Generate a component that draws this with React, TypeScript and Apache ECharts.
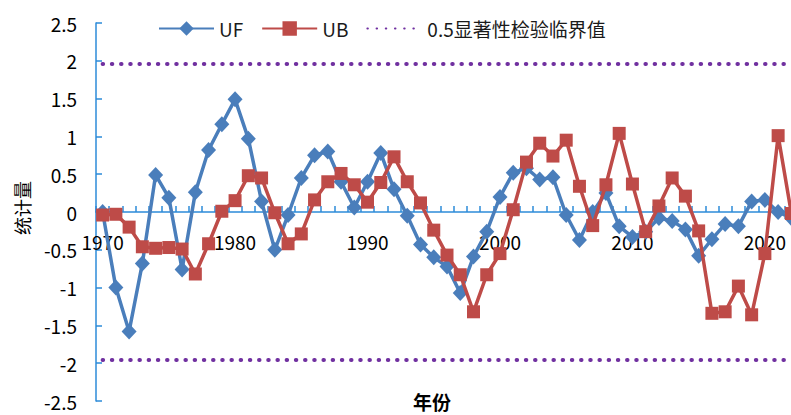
import React, { useEffect, useRef } from 'react';
import * as echarts from 'echarts';

const years = [
  '1970', '1971', '1972', '1973', '1974', '1975', '1976', '1977', '1978', '1979',
  '1980', '1981', '1982', '1983', '1984', '1985', '1986', '1987', '1988', '1989',
  '1990', '1991', '1992', '1993', '1994', '1995', '1996', '1997', '1998', '1999',
  '2000', '2001', '2002', '2003', '2004', '2005', '2006', '2007', '2008', '2009',
  '2010', '2011', '2012', '2013', '2014', '2015', '2016', '2017', '2018', '2019',
  '2020', '2021', '2022',
];

const ufValues = [
  0.0, -1.0, -1.58, -0.68, 0.49, 0.19, -0.76, 0.26, 0.82, 1.16,
  1.49, 0.97, 0.14, -0.5, -0.04, 0.45, 0.75, 0.8, 0.4, 0.06,
  0.4, 0.78, 0.3, -0.05, -0.43, -0.6, -0.72, -1.07, -0.59, -0.26,
  0.2, 0.52, 0.58, 0.43, 0.46, -0.04, -0.37, 0.0, 0.25, -0.19,
  -0.33, -0.26, -0.08, -0.12, -0.23, -0.58, -0.36, -0.16, -0.19, 0.14,
  0.16, 0.0, -0.08,
];

const ubValues = [
  -0.04, -0.03, -0.2, -0.46, -0.48, -0.47, -0.49, -0.82, -0.42, 0.01,
  0.15, 0.48, 0.45, -0.01, -0.42, -0.29, 0.16, 0.4, 0.51, 0.36,
  0.13, 0.39, 0.73, 0.4, 0.12, -0.24, -0.57, -0.83, -1.32, -0.83,
  -0.55, 0.03, 0.66, 0.91, 0.74, 0.95, 0.34, -0.18, 0.36, 1.04,
  0.37, -0.26, 0.08, 0.45, 0.21, -0.25, -1.34, -1.32, -0.98, -1.36,
  -0.55, 1.01, -0.02,
];

const criticalValue = 1.96;
const yTicks = { min: -2.5, max: 2.5, interval: 0.5 };

const seriesNames = ['UF', 'UB', '0.5显著性检验临界值'];
const axisNames = { x: '年份', y: '统计量' };

const FONT = '"Noto Sans CJK SC", "Noto Sans", sans-serif';
const AXIS_COLOR = '#2C8BD9';
const UF_COLOR = '#4A7EBB';
const UB_COLOR = '#BE4B48';
const CRIT_COLOR = '#7030A0';

export default function App() {
  const ref = useRef<HTMLDivElement>(null);

  useEffect(() => {
    if (!ref.current) return;
    const chart = echarts.init(ref.current, undefined, { renderer: 'svg' });
    const first = years[0];
    const last = years[years.length - 1];
    const dotted = { color: CRIT_COLOR, width: 4, type: [0.5, 8.7], cap: 'round' };
    chart.setOption({
      animation: false,
      backgroundColor: '#ffffff',
      textStyle: { fontFamily: FONT },
      grid: {
        left: 96,
        right: -7,
        top: 23,
        bottom: 14,
        containLabel: false,
        outerBoundsMode: 'none',
      },
      legend: {
        left: 153,
        top: 14,
        itemWidth: 55,
        itemHeight: 18,
        itemGap: 18,
        data: [
          { name: seriesNames[0] },
          { name: seriesNames[1] },
          { name: seriesNames[2], itemStyle: { color: 'rgba(0,0,0,0)', opacity: 0, borderWidth: 0 } },
        ],
        textStyle: { fontFamily: FONT, fontSize: 19, color: '#1a1a1a' },
      },
      xAxis: {
        type: 'category',
        data: years,
        boundaryGap: true,
        offset: -189,
        axisLine: { onZero: false, lineStyle: { color: AXIS_COLOR, width: 1.5 } },
        axisTick: { show: true, inside: true, length: 6, interval: 0, lineStyle: { color: AXIS_COLOR, width: 1.5 } },
        axisLabel: { interval: 9, margin: 20, fontFamily: FONT, fontSize: 19, color: '#000' },
        splitLine: { show: false },
      },
      yAxis: {
        type: 'value',
        min: yTicks.min,
        max: yTicks.max,
        interval: yTicks.interval,
        axisLine: { show: true, lineStyle: { color: AXIS_COLOR, width: 1.5 } },
        axisTick: { show: true, inside: true, length: 6, lineStyle: { color: AXIS_COLOR, width: 1.5 } },
        axisLabel: { margin: 19, fontFamily: FONT, fontSize: 19, color: '#000' },
        splitLine: { show: false },
      },
      graphic: [
        {
          type: 'text',
          x: 22,
          y: 208,
          rotation: Math.PI / 2,
          style: {
            text: axisNames.y,
            font: `18px ${FONT}`,
            fill: '#000000',
            align: 'center',
            verticalAlign: 'middle',
          },
        },
        {
          type: 'text',
          x: 432,
          y: 401,
          style: {
            text: axisNames.x,
            font: `bold 19px ${FONT}`,
            fill: '#000000',
            align: 'center',
            verticalAlign: 'middle',
          },
        },
      ],
      series: [
        {
          name: seriesNames[0],
          type: 'line',
          data: ufValues,
          symbol: 'diamond',
          symbolSize: [15, 16],
          showAllSymbol: true,
          lineStyle: { color: UF_COLOR, width: 3.5 },
          itemStyle: { color: UF_COLOR },
          z: 3,
        },
        {
          name: seriesNames[1],
          type: 'line',
          data: ubValues,
          symbol: 'rect',
          symbolSize: 13,
          showAllSymbol: true,
          lineStyle: { color: UB_COLOR, width: 3.5 },
          itemStyle: { color: UB_COLOR },
          z: 4,
        },
        {
          name: seriesNames[2],
          type: 'line',
          data: [],
          symbol: 'none',
          lineStyle: dotted,
          itemStyle: { color: CRIT_COLOR },
          z: 2,
          markLine: {
            silent: true,
            symbol: 'none',
            label: { show: false },
            lineStyle: dotted,
            data: [
              [{ coord: [first, criticalValue] }, { coord: [last, criticalValue] }],
              [{ coord: [first, -criticalValue] }, { coord: [last, -criticalValue] }],
            ],
          },
        },
      ],
    });
    return () => chart.dispose();
  }, []);

  return (
    <div
      ref={ref}
      style={{ position: 'fixed', left: 0, top: 0, width: 791, height: 415, background: '#fff' }}
    />
  );
}
